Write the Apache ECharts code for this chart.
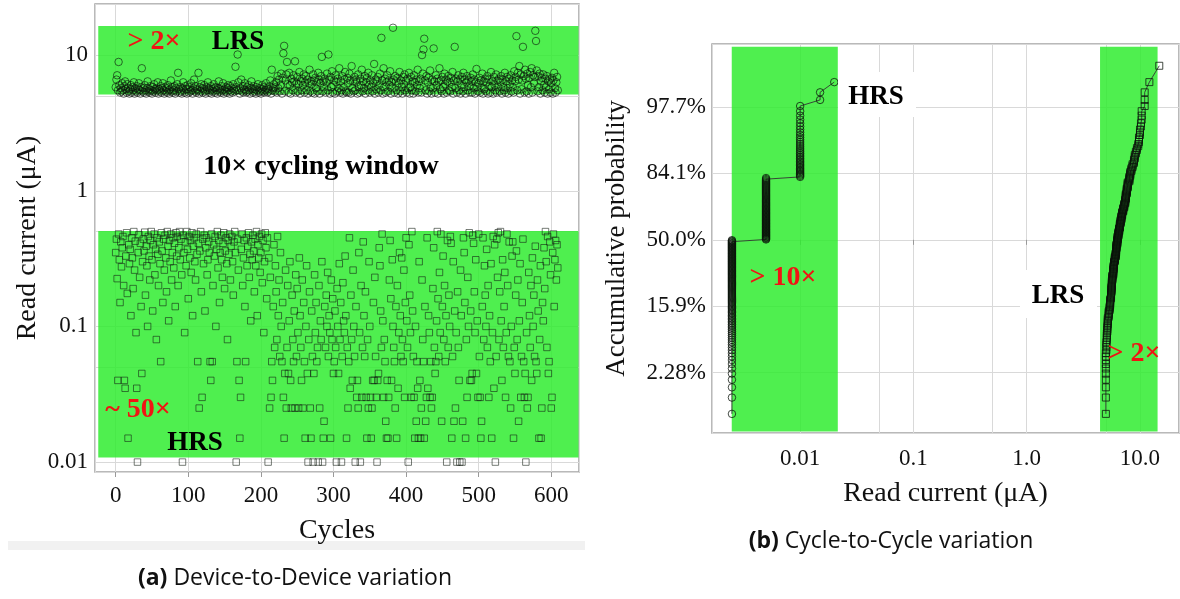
<!DOCTYPE html>
<html><head><meta charset="utf-8">
<script src="https://cdn.jsdelivr.net/npm/echarts@6/dist/echarts.min.js"></script>
<style>html,body{margin:0;padding:0;background:#fff}#c{width:1180px;height:599px}</style>
</head><body><div id="c"></div>
<script>
// ---------- (a) Device-to-Device: one reading per cycle ----------
const d2dCycleStart = 0;
const lrsUnit = 0.1;     // LRS values written in tenths of a µA
const hrsUnit = 0.005;   // HRS values written in steps of 0.005 µA
const d2dLrsTenths = [
58,66,71,55,89,60,53,57,54,62, 55,52,59,64,56,53,61,57,54,52, 56,60,53,58,55,63,52,57,54,59,
53,56,62,55,52,58,80,54,57,53, 60,55,52,57,64,54,56,53,59,55, 52,58,54,61,56,53,57,55,63,52,
56,54,59,53,57,62,55,52,58,54, 57,53,60,55,52,56,65,54,58,53, 55,59,52,57,54,61,74,56,53,58,
54,52,57,63,55,53,59,56,52,60, 56,53,58,54,62,55,52,57,66,54, 59,53,56,55,74,52,58,54,61,57,
53,56,60,54,52,58,55,63,57,53, 55,59,52,56,54,61,57,53,58,55, 52,57,64,54,56,53,59,55,62,52,
56,54,58,53,57,60,55,52,59,54, 57,53,61,56,54,82,58,55,101,63, 55,52,57,66,54,59,53,56,62,55,
53,58,54,60,55,52,57,64,56,53, 59,54,56,52,58,55,61,53,57,54, 52,56,60,54,58,53,55,62,57,53,
56,54,59,65,52,78,55,57,61,54, 58,63,53,70,57,66,54,60,73,52, 68,103,117,54,65,72,89,61,53,74,
60,52,67,63,55,71,64,90,53,62, 69,54,61,75,52,64,55,67,60,72, 53,63,70,55,66,52,62,78,54,64,
61,53,72,65,52,68,57,63,54,74, 66,52,62,70,97,54,64,58,67,53, 63,73,55,101,66,52,69,58,76,53,
60,65,52,71,63,54,67,57,80,53, 64,55,70,52,58,66,75,54,53,68, 62,53,73,65,52,83,57,64,54,69,
55,66,63,52,72,58,53,67,60,78, 54,64,57,70,52,63,68,55,74,60, 53,65,58,71,54,62,86,52,66,56,
64,69,53,60,73,55,134,65,52,80, 58,67,53,63,71,54,65,60,76,52, 63,57,159,66,53,70,64,55,68,52,
62,75,54,65,58,52,69,61,72,55, 65,53,67,57,74,52,58,69,55,64, 52,71,63,54,66,60,78,53,64,57,
67,53,100,73,110,132,65,55,70,52, 63,68,54,77,58,52,66,57,112,64, 53,71,60,67,52,64,80,56,65,54,
69,58,52,73,61,66,53,64,70,55, 63,54,68,58,75,52,65,115,57,67, 53,64,71,55,66,52,60,69,54,74,
58,66,52,63,70,55,65,59,53,68, 64,53,72,57,66,52,63,79,58,54, 62,68,53,65,57,73,52,64,56,67,
54,63,70,52,66,59,53,75,58,64, 52,69,60,55,72,53,65,58,67,54, 63,70,52,66,58,55,74,53,64,69,
57,52,67,61,71,54,65,58,53,76, 64,69,138,55,74,66,83,52,72,56, 65,115,70,53,78,67,54,73,60,52,
68,75,58,80,53,71,62,69,151,127, 77,54,70,58,73,52,64,68,55,72, 60,53,67,58,70,52,64,56,66,53,
62,68,52,65,74,57,53,63,69,55
];
const d2dHrsSteps = [
70,88,45,8,96,62,30,84,55,76, 92,40,8,7,66,98,35,3,80,58, 74,24,90,64,38,100,52,85,18,7,
2,70,95,46,82,28,9,60,88,72, 99,34,78,56,20,92,66,44,86,100, 62,26,80,96,48,74,16,90,68,40,
84,58,11,98,72,30,88,52,94,64, 36,100,78,22,86,60,96,44,70,90, 54,82,28,98,66,92,40,76,100,62,
88,48,2,94,70,18,84,56,100,74, 32,92,64,86,50,98,24,78,90,60, 44,96,68,11,82,5,72,100,36,6,
88,58,94,26,76,90,48,62,84,70, 11,8,96,11,40,80,66,92,20,74, 100,54,86,30,70,94,62,46,82,98,
38,72,90,58,16,86,68,96,44,78, 92,60,34,84,100,70,2,11,88,52, 8,3,6,74,96,40,64,86,28,11,
90,56,78,98,46,68,22,84,62,94, 72,36,88,56,100,24,80,64,92,50, 70,96,42,86,18,60,98,76,32,90,
2,64,5,46,6,11,8,28,80,14, 56,36,16,92,24,44,12,70,20,11, 30,6,3,9,52,5,14,40,9,22,
60,8,5,34,16,11,26,5,48,12, 38,18,5,64,24,14,8,44,5,30, 11,3,20,56,9,2,16,36,5,3,
26,12,2,9,48,18,30,11,14,2, 40,5,22,16,60,2,3,4,28,14, 34,20,50,12,24,18,3,44,16,32,
9,11,26,14,2,38,20,9,58,16, 30,2,12,42,22,18,66,24,3,14, 5,11,90,7,34,16,8,52,20,12,
2,28,6,8,5,70,18,2,40,6, 14,84,24,12,36,6,3,16,5,60, 20,6,3,5,8,30,8,46,12,6,
2,8,9,76,56,26,14,96,22,6, 16,11,4,3,8,3,6,44,86,32, 8,62,20,14,11,5,28,3,40,7,
18,70,24,12,64,16,11,52,6,30, 90,22,14,2,80,34,18,6,100,26, 12,6,3,20,4,11,7,3,60,8,
3,5,44,16,11,3,28,4,6,90, 7,24,18,6,11,5,6,38,76,14, 9,11,22,100,32,12,50,18,96,4,
28,66,16,40,11,24,2,86,14,34, 20,92,82,3,12,60,4,26,5,18, 2,36,14,8,2,52,24,2,4,90,
70,30,3,16,6,46,20,98,8,26, 8,9,94,82,36,18,62,9,22,6, 96,12,6,3,4,28,90,16,56,34,
20,74,14,40,6,24,11,58,3,18, 92,7,80,2,12,88,46,98,16,36, 100,22,8,62,14,28,50,6,18,96,
40,12,84,11,5,20,66,84,3,14, 9,34,72,16,44,4,22,58,6,12, 30,88,11,6,9,2,18,5,6,50,
24,14,40,8,64,20,34,12,78,11, 9,44,26,3,16,56,3,5,30,22, 76,38,100,60,14,92,9,11,84,48,
5,6,70,96,28,62,86,44,80,54
];
// ---------- (b) Cycle-to-Cycle: sorted read levels and how many readings sit at each ----------
const c2cSampleSize = 226;
const c2cHrsLevels = [0.0025, 0.005, 0.01, 0.015, 0.02];
const c2cHrsCounts = [113, 74, 35, 2, 1];
const c2cLrsLevels = [5.0,5.05,5.1,5.15,5.2,5.3,5.4,5.45,5.55,5.6,5.65,5.7,5.8,5.85,5.9,6.0,6.1,6.15,6.2,6.3,
  6.35,6.45,6.55,6.65,6.75,6.85,6.95,7.1,7.25,7.4,7.5,7.65,7.8,8.05,8.2,8.4,8.6,8.85,9.0,9.2,9.4,9.65,
  9.8,10.0,10.2,10.35,11.0,12.1,14.8];
const c2cLrsCounts = [10,4,4,4,5,5,4,6,6,6,7,6,7,5,5,6,5,6,6,6,
  5,6,5,6,5,5,5,5,5,5,6,6,6,5,4,3,3,3,3,2,2,2,
  3,3,2,3,3,1,1];
// probability axis ticks (in standard-normal units) and their labels
const probTickZ = [-2, -1, 0, 1, 2];
const probTickLabels = ['2.28%', '15.9%', '50.0%', '84.1%', '97.7%'];
// shaded windows
const d2dLrsBand = [5.13, 16.4];
const d2dHrsBand = [0.0108, 0.505];
const d2dBandCycles = [-24, 637.5];
const c2cHrsBand = [0.00249, 0.0215];
const c2cLrsBand = [4.44, 14.3];
const c2cBandZ = [-2.883, 2.907];

function probit(p){
  const a=[-3.969683028665376e+01,2.209460984245205e+02,-2.759285104469687e+02,1.383577518672690e+02,-3.066479806614716e+01,2.506628277459239e+00];
  const b=[-5.447609879822406e+01,1.615858368580409e+02,-1.556989798598866e+02,6.680131188771972e+01,-1.328068155288572e+01];
  const c=[-7.784894002430293e-03,-3.223964580411365e-01,-2.400758277161838e+00,-2.549732539343734e+00,4.374664141464968e+00,2.938163982698783e+00];
  const d=[7.784695709041462e-03,3.224671290700398e-01,2.445134137142996e+00,3.754408661907416e+00];
  const pl=0.02425; let q,r;
  if(p<pl){q=Math.sqrt(-2*Math.log(p));return (((((c[0]*q+c[1])*q+c[2])*q+c[3])*q+c[4])*q+c[5])/((((d[0]*q+d[1])*q+d[2])*q+d[3])*q+1);}
  if(p<=1-pl){q=p-0.5;r=q*q;return (((((a[0]*r+a[1])*r+a[2])*r+a[3])*r+a[4])*r+a[5])*q/(((((b[0]*r+b[1])*r+b[2])*r+b[3])*r+b[4])*r+1);}
  q=Math.sqrt(-2*Math.log(1-p));return -(((((c[0]*q+c[1])*q+c[2])*q+c[3])*q+c[4])*q+c[5])/((((d[0]*q+d[1])*q+d[2])*q+d[3])*q+1);
}
function cumulative(levels, counts){
  const out=[]; let i=0;
  levels.forEach((v,k)=>{ for(let n=0;n<counts[k];n++){ i++; out.push([v, probit(i/(c2cSampleSize+1))]); } });
  return out;
}

const SERIF = '"Liberation Serif","Times New Roman",serif';
const SANS = '"Open Sans","Noto Sans",sans-serif';
const gridGrey = '#d9d9d9';
const bandColor = 'rgba(45,236,45,0.84)';
const red = '#f01414';

const d2dLrs = d2dLrsTenths.map((v,i)=>[d2dCycleStart+i, +(v*lrsUnit).toFixed(2)]);
const d2dHrs = d2dHrsSteps.map((v,i)=>[d2dCycleStart+i, +(v*hrsUnit).toFixed(4)]);
const c2cHrs = cumulative(c2cHrsLevels, c2cHrsCounts);
const c2cLrs = cumulative(c2cLrsLevels, c2cLrsCounts);

const tickLabel = {fontFamily: SERIF, fontSize: 23, color: '#111', showMinLabel: false, showMaxLabel: false};
const nameStyle = {fontFamily: SERIF, fontSize: 28, color: '#111'};
function note(x, y, text, size, color){
  return {type: 'text', z: 60, x: x, y: y, style: {text: text, font: 'bold ' + size + 'px ' + SERIF, fill: color,
    align: 'center', verticalAlign: 'middle', textAlign: 'center', textVerticalAlign: 'middle'}};
}

const chart = echarts.init(document.getElementById('c'), null, {renderer: 'canvas'});
chart.setOption({
  animation: false,
  backgroundColor: '#fff',
  grid: [
    {left: 95, top: 4, width: 484, height: 468, show: true, borderColor: '#a3a3a3', borderWidth: 1.5, backgroundColor: 'transparent'},
    {left: 712, top: 44, width: 467, height: 389, show: true, borderColor: '#a3a3a3', borderWidth: 1.5, backgroundColor: 'transparent'}
  ],
  xAxis: [
    {type: 'value', gridIndex: 0, min: -28.5, max: 638.2, splitNumber: 6,
     axisLine: {show: false}, axisTick: {show: true, length: 5, lineStyle: {color: '#999'}},
     axisLabel: Object.assign({margin: 12}, tickLabel),
     splitLine: {show: true, lineStyle: {color: gridGrey, width: 1}},
     name: 'Cycles', nameLocation: 'middle', nameGap: 45, nameTextStyle: nameStyle},
    {type: 'log', logBase: 10, gridIndex: 1, min: 0.001667, max: 22.1,
     axisLine: {show: false}, axisTick: {show: true, length: 5, lineStyle: {color: '#999'}},
     axisLabel: Object.assign({margin: 14, formatter: v => v >= 1 ? v.toFixed(1) : String(+v.toPrecision(2))}, tickLabel),
     splitLine: {show: true, lineStyle: {color: gridGrey, width: 1}},
     name: 'Read current (μA)', nameLocation: 'middle', nameGap: 47, nameTextStyle: nameStyle}
  ],
  yAxis: [
    {type: 'log', logBase: 10, gridIndex: 0, min: 0.00845, max: 23.8,
     axisLine: {show: false}, axisTick: {show: false},
     axisLabel: Object.assign({margin: 7, formatter: v => String(+v.toPrecision(3))}, tickLabel),
     splitLine: {show: true, lineStyle: {color: gridGrey, width: 1}},
     name: 'Read current (μA)', nameLocation: 'middle', nameGap: 53, nameTextStyle: nameStyle},
    {type: 'value', gridIndex: 1, min: -2.907, max: 2.947, splitNumber: 5,
     axisLine: {show: false}, axisTick: {show: false},
     axisLabel: Object.assign({margin: 6, formatter: v => { const k = probTickZ.indexOf(Math.round(v)); return k >= 0 && Math.abs(v - Math.round(v)) < 1e-6 ? probTickLabels[k] : ''; }}, tickLabel),
     splitLine: {show: true, lineStyle: {color: gridGrey, width: 1}},
     name: 'Accumulative probability', nameLocation: 'middle', nameGap: 82, nameTextStyle: Object.assign({}, nameStyle, {fontSize: 27})}
  ],
  series: [
    {type: 'scatter', name: 'LRS D2D', xAxisIndex: 0, yAxisIndex: 0, data: d2dLrs,
     symbol: 'circle', symbolSize: 7.5, z: 3,
     itemStyle: {color: 'transparent', borderColor: 'rgba(10,20,10,0.85)', borderWidth: 0.9},
     markArea: {silent: true, z: 1, itemStyle: {color: bandColor},
       data: [
         [{xAxis: d2dBandCycles[0], yAxis: d2dLrsBand[0]}, {xAxis: d2dBandCycles[1], yAxis: d2dLrsBand[1]}],
         [{xAxis: d2dBandCycles[0], yAxis: d2dHrsBand[0]}, {xAxis: d2dBandCycles[1], yAxis: d2dHrsBand[1]}]
       ]},
     markLine: {silent: true, z: 0, symbol: 'none', label: {show: false}, lineStyle: {color: gridGrey, width: 1, type: 'solid'},
       data: [{yAxis: 5}, {yAxis: 0.5}, {yAxis: 0.05}]}
    },
    {type: 'scatter', name: 'HRS D2D', xAxisIndex: 0, yAxisIndex: 0, data: d2dHrs,
     symbol: 'rect', symbolSize: 6.5, z: 3,
     itemStyle: {color: 'transparent', borderColor: 'rgba(20,30,20,0.8)', borderWidth: 0.9}},
    {type: 'line', name: 'HRS C2C', xAxisIndex: 1, yAxisIndex: 1, data: c2cHrs,
     symbol: 'circle', symbolSize: 7.5, showAllSymbol: true, z: 3,
     itemStyle: {color: 'transparent', borderColor: 'rgba(10,20,10,0.85)', borderWidth: 0.9},
     lineStyle: {color: '#333', width: 0.9},
     markArea: {silent: true, z: 1, itemStyle: {color: bandColor},
       data: [
         [{xAxis: c2cHrsBand[0], yAxis: c2cBandZ[0]}, {xAxis: c2cHrsBand[1], yAxis: c2cBandZ[1]}],
         [{xAxis: c2cLrsBand[0], yAxis: c2cBandZ[0]}, {xAxis: c2cLrsBand[1], yAxis: c2cBandZ[1]}]
       ]},
     markLine: {silent: true, z: 0, symbol: 'none', label: {show: false}, lineStyle: {color: gridGrey, width: 1, type: 'solid'},
       data: [{xAxis: 0.005}, {xAxis: 0.05}, {xAxis: 0.5}, {xAxis: 5}]}
    },
    {type: 'line', name: 'LRS C2C', xAxisIndex: 1, yAxisIndex: 1, data: c2cLrs,
     symbol: 'rect', symbolSize: 7, showAllSymbol: true, z: 3,
     itemStyle: {color: 'transparent', borderColor: 'rgba(10,20,10,0.85)', borderWidth: 0.9},
     lineStyle: {color: '#333', width: 0.9}}
  ],
  graphic: [
    {type: 'rect', z: 0, silent: true, shape: {x: 8, y: 541, width: 577, height: 9}, style: {fill: '#f1f1f1'}},
    {type: 'rect', z: 50, silent: true, shape: {x: 838, y: 72, width: 78, height: 45}, style: {fill: '#fff'}},
    {type: 'rect', z: 50, silent: true, shape: {x: 1020, y: 270, width: 77, height: 48}, style: {fill: '#fff'}},
    note(154, 42, '> 2×', 28, red),
    note(238, 42, 'LRS', 27, '#000'),
    note(321, 167, '10× cycling window', 28, '#000'),
    note(138, 410, '~ 50×', 28, red),
    note(195, 443, 'HRS', 27, '#000'),
    note(876, 97, 'HRS', 27, '#000'),
    note(1058, 296, 'LRS', 27, '#000'),
    note(783, 278, '> 10×', 28, red),
    note(1134, 354, '> 2×', 28, red),
    {type: 'text', z: 60, x: 295, y: 578, style: {text: '{b|(a)} Device-to-Device variation', font: '23px ' + SANS, fill: '#111', align: 'center', verticalAlign: 'middle', textAlign: 'center', textVerticalAlign: 'middle',
      rich: {b: {fontWeight: 'bold', fontSize: 23, fontFamily: SANS, fill: '#111'}}}},
    {type: 'text', z: 60, x: 891, y: 541, style: {text: '{b|(b)} Cycle-to-Cycle variation', font: '23px ' + SANS, fill: '#111', align: 'center', verticalAlign: 'middle', textAlign: 'center', textVerticalAlign: 'middle',
      rich: {b: {fontWeight: 'bold', fontSize: 23, fontFamily: SANS, fill: '#111'}}}}
  ]
});
</script>
</body></html>
